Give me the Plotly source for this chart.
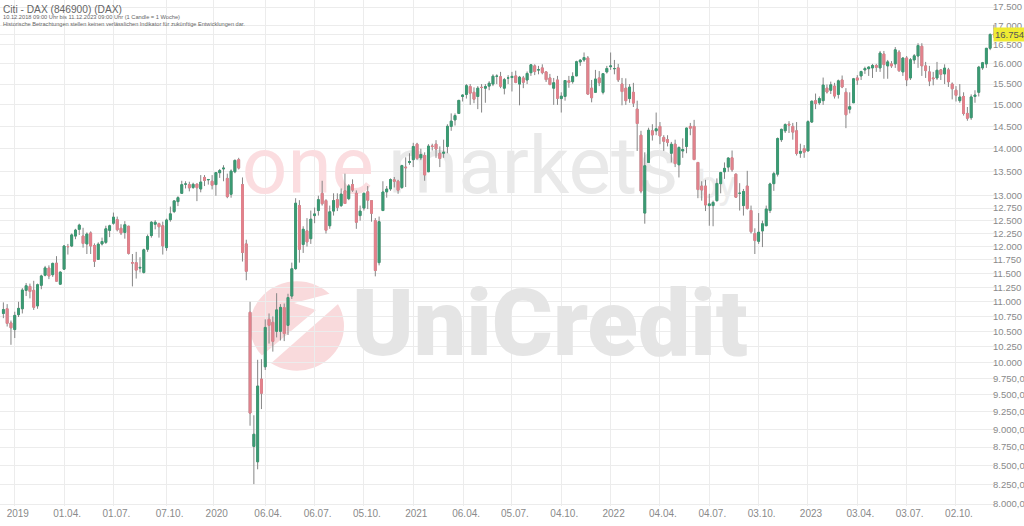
import numpy as np
import pandas as pd
import plotly.graph_objects as go

# ---------------- data (weekly DAX candles, 10.12.2018 - 11.12.2023) ----------------
open_ = [
    # 2018
    10800, 10880, 10640, 10530,
    # 2019
    10780, 10880, 11200, 11270, 11200, 10930, 11290, 11470, 11600, 11480, 11690, 11310, 11580,
    12000, 12010, 12200, 12330, 12200, 12050, 12260, 12020, 11760, 12050, 12080, 12310, 12450,
    12520, 12350, 12270, 12390, 11700, 11700, 11600, 11520, 11950, 12210, 12430, 12440, 12400,
    11980, 12520, 12680, 12880, 13050, 13240, 13230, 13170, 13240, 13140, 13380, 13330, 13300,
    # 2020
    13230, 13480, 13560, 13360, 13030, 13500, 13760, 13230, 12050, 10820, 8760, 8550, 9740,
    9930, 10700, 10650, 10500, 10500, 10900, 10600, 11100, 11590, 12800, 12040, 12300, 12150,
    12600, 12700, 13050, 12900, 12400, 12690, 12920, 12800, 13100, 12940, 13230, 13050, 12600,
    12750, 13080, 12900, 12500, 11700, 12700, 13080, 13140, 13330, 13300, 13170, 13600, 13700,
    # 2021
    13760, 14100, 13800, 13850, 13500, 14060, 14100, 13900, 13900, 14050, 14500, 14650, 14800,
    15200, 15250, 15440, 15300, 15200, 15420, 15400, 15450, 15500, 15690, 15680, 15400, 15650,
    15660, 15700, 15500, 15650, 15600, 15780, 15950, 15850, 15900, 15800, 15650, 15400, 15600,
    15150, 15200, 15580, 15560, 15700, 16050, 16100, 16150, 15400, 15300, 15650, 15300, 15800,
    # 2022
    15930, 15880, 15900, 15500, 15400, 15150, 15300, 14900, 14300, 12650, 13700, 14400, 14400,
    14500, 14250, 14200, 13900, 14100, 13650, 13950, 14050, 14500, 14500, 13700, 13200, 13200,
    12800, 12800, 12900, 13250, 13500, 13600, 13800, 13450, 13050, 12800, 13200, 12700, 12250,
    12100, 12300, 12400, 12700, 13250, 13450, 14200, 14400, 14550, 14500, 14400, 13900, 14000,
    # 2023
    13950, 14600, 15100, 15050, 15100, 15400, 15350, 15450, 15250, 15600, 15300, 14900, 15050,
    15650, 15700, 15850, 15880, 15900, 15960, 15900, 16250, 15950, 16000, 16000, 16300, 15800,
    16150, 15650, 16100, 16200, 16450, 15950, 15800, 15650, 15650, 15850, 15750, 15850, 15500,
    15350, 15100, 15200, 14800, 14700, 15200, 15300, 15900, 16000, 16400, 16770,
]
high = [
    # 2018
    10990, 10960, 10680, 10830,
    # 2019
    11000, 11240, 11330, 11320, 11370, 11320, 11480, 11640, 11650, 11700, 11820, 11540, 12030,
    12050, 12250, 12340, 12440, 12360, 12270, 12290, 12060, 12080, 12170, 12400, 12420, 12660,
    12580, 12430, 12490, 12400, 11860, 11900, 11800, 11960, 12230, 12490, 12510, 12460, 12480,
    12540, 12780, 12900, 12990, 13310, 13300, 13290, 13270, 13250, 13430, 13430, 13340, 13430,
    # 2020
    13490, 13560, 13640, 13460, 13550, 13760, 13800, 13380, 12130, 11000, 9200, 10040, 10050,
    10700, 10800, 10750, 11150, 10960, 10970, 11140, 11700, 12950, 12910, 12390, 12550, 12700,
    12760, 13000, 13310, 12930, 12800, 13050, 13050, 13150, 13460, 13240, 13340, 13110, 12800,
    13050, 13200, 12900, 12550, 12580, 13300, 13200, 13360, 13390, 13330, 13650, 13810, 13900,
    # 2021
    14130, 14130, 14000, 13920, 14100, 14110, 14190, 14050, 14200, 14550, 14800, 14800, 15110,
    15250, 15500, 15500, 15420, 15450, 15500, 15500, 15570, 15740, 15740, 15800, 15650, 15720,
    15800, 15830, 15700, 15700, 15810, 15990, 15990, 15950, 15990, 15810, 15750, 15650, 15700,
    15300, 15600, 15700, 15790, 16080, 16120, 16290, 16200, 15600, 15850, 15820, 15760, 15950,
    # 2022
    16290, 16100, 16000, 15650, 15640, 15500, 15530, 15100, 14400, 13920, 14470, 14550, 14820,
    14600, 14300, 14300, 14150, 14200, 14050, 14230, 14470, 14580, 14650, 13700, 13300, 13330,
    13040, 12900, 13360, 13500, 13700, 13810, 13960, 13460, 13260, 13140, 13520, 12800, 12350,
    12650, 12500, 12800, 13270, 13500, 14250, 14450, 14570, 14620, 14580, 14600, 14110, 14080,
    # 2023
    14640, 15100, 15270, 15200, 15660, 15490, 15560, 15530, 15610, 15710, 15400, 15300, 15650,
    15720, 15830, 15930, 15930, 16000, 16000, 16330, 16330, 16100, 16070, 16430, 16350, 16170,
    16200, 16150, 16250, 16530, 16530, 16050, 15950, 15800, 16050, 15870, 15990, 15900, 15540,
    15450, 15500, 15300, 14950, 15250, 15350, 15950, 16050, 16400, 16790, 17010,
]
low = [
    # 2018
    10720, 10580, 10280, 10390,
    # 2019
    10740, 10800, 11100, 11060, 10860, 10880, 11220, 11450, 11400, 11440, 11360, 11300, 11570,
    11850, 11990, 12140, 12220, 11980, 11860, 11860, 11620, 11760, 12020, 12050, 12180, 12420,
    12290, 12220, 12150, 11850, 11270, 11410, 11520, 11500, 11900, 12170, 12330, 12170, 11850,
    11920, 12480, 12650, 12790, 13040, 13150, 13090, 13140, 12890, 13070, 13200, 13230, 13130,
    # 2020
    13000, 13370, 13300, 12950, 12960, 13470, 13550, 11720, 11380, 9050, 8255, 8450, 9290,
    9880, 10300, 10170, 10400, 10350, 10340, 10440, 11050, 11570, 11700, 11880, 12000, 12050,
    12450, 12600, 12800, 12250, 12340, 12600, 12690, 12770, 12840, 12910, 13080, 12340, 12500,
    12700, 12730, 12480, 11450, 11650, 12700, 12960, 13100, 13170, 13040, 13140, 13180, 13650,
    # 2021
    13600, 13750, 13750, 13310, 13500, 13960, 13800, 13600, 13800, 13900, 14400, 14520, 14800,
    15080, 15150, 15000, 15040, 14900, 14820, 15050, 15350, 15450, 15500, 15400, 15250, 15500,
    15320, 15520, 14990, 15400, 15500, 15700, 15720, 15740, 15740, 15550, 15470, 15000, 15000,
    14820, 15100, 15410, 15510, 15700, 15950, 16050, 15240, 15060, 15290, 15450, 15250, 15760,
    # 2022
    15850, 15740, 15550, 14990, 15000, 15050, 14950, 13950, 13050, 12440, 13700, 14180, 14300,
    14100, 13950, 14050, 13700, 13600, 13380, 13800, 13900, 14300, 13750, 12950, 12900, 12690,
    12400, 12390, 12880, 13050, 13350, 13500, 13500, 12960, 12700, 12600, 12720, 12250, 11860,
    12050, 11990, 12400, 12650, 13100, 13400, 14150, 14350, 14350, 14200, 13850, 13800, 13800,
    # 2023
    13950, 14580, 14900, 15000, 15000, 15270, 15260, 15150, 15150, 15400, 14460, 14800, 15050,
    15480, 15600, 15750, 15700, 15650, 15800, 15800, 15630, 15630, 15900, 15900, 15800, 15700,
    15450, 15600, 16000, 15900, 15700, 15650, 15450, 15470, 15600, 15600, 15500, 15430, 15130,
    15080, 15050, 14750, 14630, 14650, 15050, 15200, 15850, 15900, 16350, 16680,
]
close = [
    # 2018
    10866, 10634, 10559, 10767,
    # 2019
    10887, 11205, 11281, 11181, 10906, 11300, 11457, 11603, 11458, 11686, 11364, 11526, 12010,
    11999, 12222, 12315, 12412, 12060, 12239, 12011, 11727, 12045, 12096, 12340, 12399, 12568,
    12323, 12260, 12419, 11872, 11693, 11563, 11612, 11939, 12191, 12469, 12468, 12381, 12013,
    12512, 12634, 12895, 12961, 13229, 13242, 13163, 13236, 13166, 13283, 13318, 13337, 13219,
    # 2020
    13483, 13526, 13577, 12982, 13514, 13745, 13579, 11890, 11542, 9232, 8929, 9633, 9525,
    10565, 10600, 10336, 10861, 10904, 10465, 11074, 11587, 12848, 11949, 12331, 12089, 12528,
    12633, 12920, 12838, 12313, 12675, 12901, 12765, 13033, 12842, 13203, 13116, 12469, 12689,
    13051, 12909, 12646, 11556, 12480, 13077, 13137, 13335, 13299, 13114, 13631, 13587, 13719,
    # 2021
    14049, 13788, 13873, 13433, 14056, 14050, 13993, 13786, 13920, 14502, 14621, 14749, 15107,
    15234, 15460, 15280, 15136, 15400, 15417, 15438, 15520, 15693, 15693, 15448, 15608, 15650,
    15688, 15540, 15669, 15544, 15761, 15977, 15808, 15852, 15781, 15609, 15490, 15532, 15156,
    15207, 15587, 15543, 15688, 16054, 16094, 16160, 15257, 15170, 15623, 15532, 15756, 15885,
    # 2022
    15948, 15883, 15603, 15318, 15100, 15425, 15042, 14567, 13095, 13628, 14413, 14306, 14446,
    14284, 14164, 14142, 14098, 13675, 14027, 13982, 14462, 14460, 13762, 13127, 13118, 12813,
    12834, 12864, 13254, 13484, 13573, 13795, 13544, 12971, 13050, 13088, 12741, 12284, 12114,
    12273, 12438, 12731, 13243, 13460, 14225, 14432, 14541, 14529, 14370, 13894, 13941, 13924,
    # 2023
    14610, 15087, 15034, 15150, 15476, 15308, 15482, 15210, 15578, 15428, 14768, 14957, 15629,
    15597, 15808, 15882, 15922, 15961, 15914, 16275, 15983, 16051, 15950, 16358, 15830, 16148,
    15603, 16105, 16204, 16469, 15952, 15832, 15574, 15632, 15840, 15740, 15894, 15557, 15387,
    15229, 15187, 14798, 14688, 15189, 15234, 15919, 16029, 16398, 16759, 16754,
]

first_week = "2018-12-10"
last_price = 16754

x_tick_dates = ["2018-12-31", "2019-04-01", "2019-07-01", "2019-10-07",
                "2020-01-02", "2020-04-06", "2020-07-06", "2020-10-05",
                "2021-01-04", "2021-04-06", "2021-07-05", "2021-10-04",
                "2022-01-03", "2022-04-04", "2022-07-04", "2022-10-03",
                "2023-01-02", "2023-04-03", "2023-07-03", "2023-10-02"]
x_tick_text = ["2019", "01.04.", "01.07.", "07.10.",
               "2020", "06.04.", "06.07.", "05.10.",
               "2021", "06.04.", "05.07.", "04.10.",
               "2022", "04.04.", "04.07.", "03.10.",
               "2023", "03.04.", "03.07.", "02.10."]

y_tick_vals = [17500, 17000, 16750, 16500, 16000, 15500, 15000, 14500, 14000, 13500,
               13000, 12750, 12500, 12250, 12000, 11750, 11500, 11250, 11000, 10750,
               10500, 10250, 10000, 9750, 9500, 9250, 9000, 8750, 8500, 8250, 8000]
y_tick_text = ["17.500", "17.000", "16.750", "16.500", "16.000", "15.500", "15.000",
               "14.500", "14.000", "13.500", "13.000", "12.750", "12.500", "12.250",
               "12.000", "11.750", "11.500", "11.250", "11.000", "10.750", "10.500",
               "10.250", "10.000", "9.750,0", "9.500,0", "9.250,0", "9.000,0",
               "8.750,0", "8.500,0", "8.250,0", "8.000,0"]

title_lines = ["Citi - DAX (846900) (DAX)",
               "10.12.2018 09:00 Uhr bis 11.12.2023 09:00 Uhr (1 Candle = 1 Woche)",
               "Historische Betrachtungen stellen keinen verlässlichen Indikator für zukünftige Entwicklungen dar."]

n = len(close)
if not (len(open_) == len(high) == len(low) == n):
    raise ValueError(f"length mismatch {len(open_)} {len(high)} {len(low)} {n}")

# ---------------- figure ----------------
W, H = 1024, 526
ML, MR, MT, MB = 0, 28, 0, 20
PW, PH = W - ML - MR, H - MT - MB

GREEN = "#3a9a73"
RED = "#e3828c"
WICK = "#858585"
GRID = "#ececec"
LABEL = "#8a8a8a"

dates = pd.date_range(first_week, periods=n, freq="7D")
o = np.array(open_, float)
c = np.array(close, float)
h = np.maximum(np.array(high, float), np.maximum(o, c))
l = np.minimum(np.array(low, float), np.minimum(o, c))

def px(xp):
    return xp / PW

def py(yp):
    return 1 - yp / PH

fig = go.Figure()

# watermark (drawn on base axes, below candles)
fig.add_trace(go.Scatter(
    x=[px(374), px(388)], y=[py(173), py(173)], mode="text",
    text=["one", "markets"], textposition=["middle left", "middle right"],
    textfont=dict(family="Roboto", size=80, color=["#fbdde0", "#e9e9e9"]),
    hoverinfo="skip", showlegend=False, xaxis="x", yaxis="y"))
fig.add_trace(go.Scatter(
    x=[px(697)], y=[py(188)], mode="text", text=["by"], textposition="middle right",
    textfont=dict(family="Roboto", size=38, color="#ededed"),
    hoverinfo="skip", showlegend=False, xaxis="x", yaxis="y"))
fig.add_trace(go.Scatter(
    x=[px(352)], y=[py(332)], mode="text", text=["UniCredit"], textposition="middle right",
    textfont=dict(family="Roboto", size=93, color="#e5e5e5", weight=900),
    hoverinfo="skip", showlegend=False, xaxis="x", yaxis="y"))

# wicks (grey) and bodies (colored)
fig.add_trace(go.Candlestick(
    x=dates, open=o, high=h, low=l, close=c,
    increasing=dict(line=dict(color=WICK, width=1), fillcolor=WICK),
    decreasing=dict(line=dict(color=WICK, width=1), fillcolor=WICK),
    hoverinfo="skip", showlegend=False, xaxis="x2", yaxis="y2"))
fig.add_trace(go.Candlestick(
    x=dates, open=o, high=np.maximum(o, c), low=np.minimum(o, c), close=c,
    increasing=dict(line=dict(color=GREEN, width=1), fillcolor=GREEN),
    decreasing=dict(line=dict(color=RED, width=1), fillcolor=RED),
    showlegend=False, xaxis="x2", yaxis="y2"))

# UniCredit logo circle + white arrow
cx, cy, r = 297, 326, 47
fig.add_shape(type="circle", xref="x", yref="y",
              x0=px(cx - r), x1=px(cx + r), y0=py(cy + r * 0.95), y1=py(cy - r * 0.95),
              fillcolor="#f9dadc", line=dict(width=0), layer="below")
pts = [(294, 303), (340, 291), (346, 297), (268, 366), (259, 358), (316, 310)]
path = "M " + " L ".join(f"{px(a):.4f},{py(b):.4f}" for a, b in pts) + " Z"
fig.add_shape(type="path", path=path, xref="x", yref="y",
              fillcolor="white", line=dict(width=0), layer="below")

# header texts
sizes = [10.2, 5.7, 5.6]
ys = [9.5, 17, 24]
for t, s, yy in zip(title_lines, sizes, ys):
    fig.add_annotation(text=t, xref="paper", yref="paper", x=0, y=py(yy),
                       xanchor="left", yanchor="middle", showarrow=False, xshift=1,
                       font=dict(family="Liberation Sans", size=s, color="#666666"))

# current price marker
fig.add_annotation(text="16.754", xref="paper", yref="y2", x=1, y=np.log10(last_price),
                   xanchor="left", yanchor="middle", showarrow=False, xshift=-3,
                   bgcolor="#efeb32", borderpad=1,
                   font=dict(family="Liberation Sans", size=9.5, color="#555555"))

fig.update_layout(
    width=W, height=H,
    margin=dict(l=ML, r=MR, t=MT, b=MB, autoexpand=False),
    paper_bgcolor="white", plot_bgcolor="white",
    showlegend=False,
    xaxis=dict(range=[0, 1], visible=False, fixedrange=True, automargin=False),
    yaxis=dict(range=[0, 1], visible=False, fixedrange=True, automargin=False),
    xaxis2=dict(overlaying="x", anchor="y2", type="date",
                range=["2018-12-03 19:00", "2023-12-14 19:00"],
                tickmode="array", tickvals=x_tick_dates, ticktext=x_tick_text,
                showgrid=True, gridcolor=GRID, gridwidth=1, zeroline=False,
                showline=False, ticks="", automargin=False, ticklabelshift=3,
                tickfont=dict(family="Liberation Sans", size=10, color=LABEL),
                rangeslider=dict(visible=False)),
    yaxis2=dict(overlaying="y", anchor="x2", side="right", type="log",
                range=[np.log10(7975), np.log10(17694)],
                tickmode="array", tickvals=y_tick_vals, ticktext=y_tick_text,
                showgrid=True, gridcolor=GRID, gridwidth=1, zeroline=False,
                showline=False, ticks="", automargin=False, ticklabelstandoff=-4,
                tickfont=dict(family="Liberation Sans", size=9.5, color=LABEL)),
)

fig.write_html("out.html",
               config={"displayModeBar": False},
               post_script="document.body.style.margin='0';document.body.style.overflow='hidden';")
